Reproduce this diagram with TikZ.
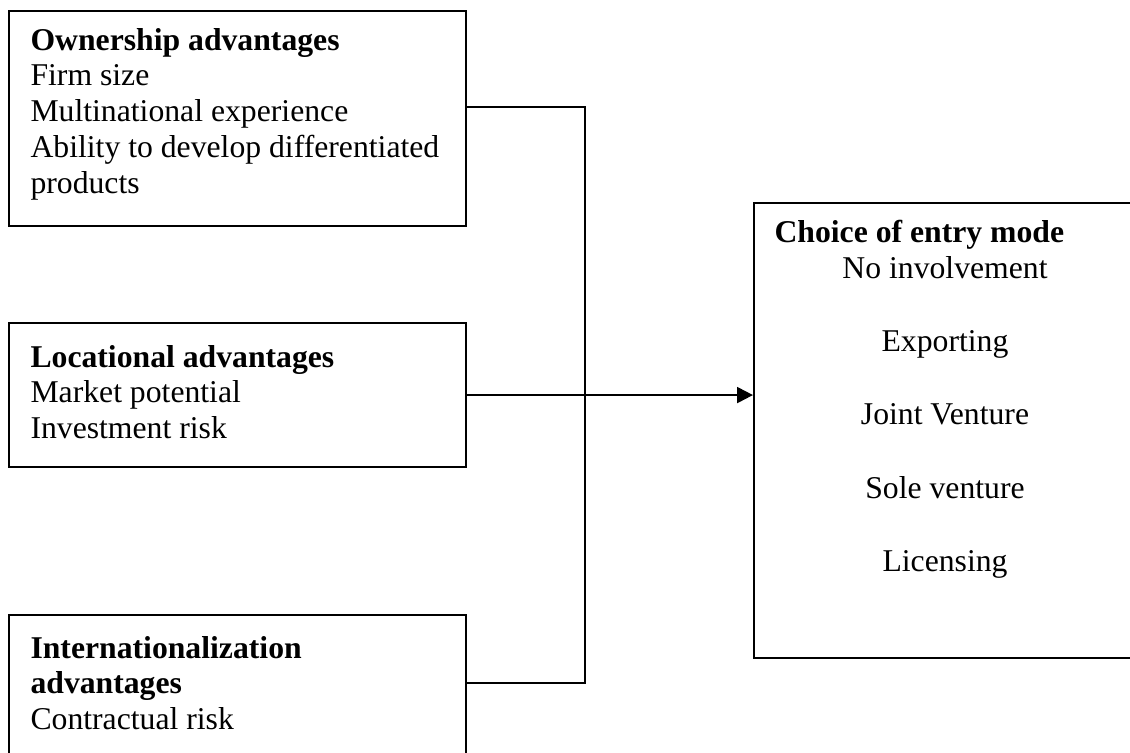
\documentclass[tikz,border=0pt]{standalone}
\usepackage{fontspec}
\setmainfont{Liberation Serif}
\usetikzlibrary{arrows.meta,calc}

\newcommand{\leftlines}[1]{\begin{tabular}[t]{@{}l@{}}#1\end{tabular}}
\newcommand{\midlines}[1]{\begin{tabular}[t]{@{}c@{}}#1\end{tabular}}

\tikzset{
  px/.style={x=0.01331cm, y=-0.01331cm},
  box/.style={draw, line width=0.8pt, anchor=north west, inner sep=0pt},
  boxtext/.style={anchor=base west, inner sep=0pt,
    font=\fontsize{12pt}{13.6pt}\selectfont},
  link/.style={line width=0.8pt},
}

\begin{document}
\begin{tikzpicture}[px]
\useasboundingbox (0,0) rectangle (1130,753);

% the three boxes on the left
\node[box, minimum width=457*0.01331cm, minimum height=215*0.01331cm] (own) at (8,10) {};
\node[box, minimum width=457*0.01331cm, minimum height=144*0.01331cm] (loc) at (8,322) {};
\node[box, minimum width=457*0.01331cm, minimum height=160*0.01331cm] (intl) at (8,614) {};

% the box on the right
\node[box, minimum width=420*0.01331cm, minimum height=455*0.01331cm] (entry) at (753,202) {};

% texts of the boxes
\node[boxtext] (owntext) at (30,50) {\leftlines{\textbf{Ownership advantages}\\Firm size\\Multinational experience\\Ability to develop differentiated\\products}};
\node[boxtext] (loctext) at (30,367) {\leftlines{\textbf{Locational advantages}\\Market potential\\Investment risk}};
\node[boxtext] (intltext) at (30,658) {\leftlines{\textbf{Internationalization}\\\textbf{advantages}\\Contractual risk}};
\node[boxtext] (entrytitle) at (774,242) {\textbf{Choice of entry mode}};
\node[boxtext, anchor=base] (modes) at (945,278) {\midlines{No involvement\\[14.2pt]Exporting\\[14.2pt]Joint Venture\\[14.2pt]Sole venture\\[14.2pt]Licensing}};

% connectors
\coordinate (hub) at (585,394);
\draw[link] ($(own.north east)!0.447!(own.south east)$) -| (hub);
\draw[link] ($(intl.north east)!0.425!(intl.south east)$) -| (hub);
\draw[link, -{Triangle[length=6pt,width=6pt]}] (loc.east) -- (loc.east -| entry.west);
\end{tikzpicture}
\end{document}
